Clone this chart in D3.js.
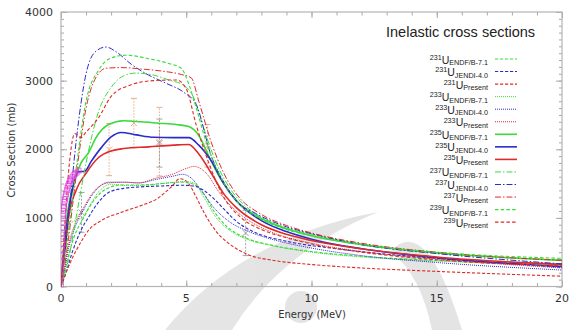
<!DOCTYPE html>
<html><head><meta charset="utf-8">
<script src="https://cdn.jsdelivr.net/npm/d3@7/dist/d3.min.js"></script>
<style>
body{margin:0;background:#fff}
svg{display:block}
</style></head><body>
<svg id="chart" width="580" height="330"></svg>
<script>
// evaluated inelastic cross sections, [E (MeV), sigma (mb)]
var u231Endf = [[0,0],[0.2,300],[0.5,700],[0.9,1000],[1.3,1250],[1.8,1420],[2.4,1480],[3.2,1480],[4.0,1500],[4.8,1520],[5.3,1490],[5.7,1350],[6.1,1100],[6.6,880],[7.3,720],[8.3,610],[10,510],[12,440],[15,380],[20,330]]
var u231Jendi = [[0,0],[0.2,200],[0.45,500],[0.8,820],[1.1,1010],[1.5,1230],[1.9,1370],[2.5,1430],[3.1,1450],[4.0,1465],[4.8,1475],[5.3,1465],[5.7,1400],[6.1,1280],[6.5,1130],[7.0,950],[7.8,780],[9,660],[11,550],[13,470],[15,410],[20,280]]
var u231Present = [[0,0],[0.2,200],[0.5,450],[0.8,650],[1.1,820],[1.6,960],[2.4,1080],[3.2,1180],[3.8,1270],[4.4,1450],[4.75,1570],[5.05,1520],[5.4,1300],[5.75,1050],[6.2,800],[6.8,600],[7.5,460],[8.5,380],[10,320],[12,270],[15,220],[20,150]]
var u233Endf = [[0,0],[0.15,500],[0.35,900],[0.6,970],[0.85,1000],[1.1,1150],[1.5,1380],[2.0,1490],[2.7,1470],[3.5,1480],[4.3,1510],[4.9,1530],[5.3,1510],[5.7,1300],[6.2,1000],[6.8,800],[7.5,680],[8.5,590],[10,500],[12,430],[15,370],[20,310]]
var u233Jendi = [[0,0],[0.15,250],[0.3,550],[0.6,900],[0.9,1120],[1.3,1360],[1.9,1520],[2.5,1520],[3.1,1510],[3.8,1560],[4.5,1610],[4.85,1635],[5.2,1580],[5.6,1400],[6.1,1150],[6.7,950],[7.5,800],[8.5,680],[10,560],[12,450],[15,350],[20,240]]
var u233Present = [[0,0],[0.15,300],[0.3,600],[0.6,950],[0.9,1150],[1.3,1380],[1.9,1510],[2.5,1520],[3.1,1510],[3.8,1580],[4.4,1630],[5.0,1720],[5.3,1750],[5.8,1650],[6.3,1380],[6.9,1130],[7.5,960],[8.5,780],[10,630],[12,510],[15,400],[20,270]]
var u235Endf = [[0,0],[0.2,900],[0.5,1500],[0.8,1800],[1.1,1950],[1.4,2170],[1.9,2360],[2.5,2415],[3.2,2400],[3.9,2380],[4.6,2360],[5.1,2330],[5.5,2200],[5.9,1900],[6.4,1550],[7,1250],[8,990],[9,840],[10,740],[12,610],[15,490],[20,380]]
var u235Jendi = [[0,0],[0.2,800],[0.45,1400],[0.7,1670],[0.95,1680],[1.2,1820],[1.6,2020],[2.0,2180],[2.4,2245],[3.0,2210],[3.7,2175],[4.5,2170],[5.1,2170],[5.5,2060],[6.0,1830],[6.5,1500],[7,1250],[8,960],[9,800],[10,690],[12,550],[15,420],[20,290]]
var u235Present = [[0,0],[0.15,500],[0.3,1000],[0.6,1400],[1.0,1650],[1.5,1880],[2.0,1975],[2.5,2010],[3.5,2035],[4.5,2060],[5.1,2070],[5.5,1930],[6.0,1650],[6.5,1350],[7,1150],[8,900],[9,760],[10,670],[12,550],[15,430],[20,320]]
var u237Endf = [[0,0],[0.3,400],[0.6,1000],[1.0,1800],[1.5,2550],[2.0,2900],[2.5,3070],[3.0,3110],[3.7,3080],[4.3,3010],[4.9,2930],[5.3,2750],[5.7,2300],[6.2,1800],[6.8,1400],[7.5,1130],[8.5,920],[10,760],[12,620],[15,490],[20,390]]
var u237Jendi = [[0,0],[0.3,1000],[0.6,2100],[1.0,3100],[1.4,3430],[1.8,3490],[2.2,3420],[2.8,3240],[3.5,3080],[4.2,2960],[4.9,2830],[5.4,2650],[6.0,1900],[6.5,1520],[7,1250],[7.8,1060],[9,870],[10,770],[12,610],[15,480],[20,330]]
var u237Present = [[0,0],[0.3,700],[0.6,1600],[1.0,2600],[1.4,3050],[1.8,3180],[2.4,3190],[3.2,3170],[4.0,3140],[4.8,3090],[5.2,3040],[5.5,2700],[6.0,2100],[6.5,1650],[7,1350],[8,1050],[9,890],[10,780],[12,630],[15,500],[20,380]]
var u239Endf = [[0,0],[0.3,800],[0.6,1700],[1.0,2700],[1.5,3150],[2.0,3330],[2.6,3370],[3.5,3320],[4.3,3250],[4.8,3180],[5.1,2950],[5.4,2600],[5.8,2100],[6.3,1650],[7,1250],[8,980],[9,830],[10,740],[12,610],[15,500],[20,410]]
var u239Present = [[0,0],[0.15,900],[0.35,1850],[0.55,2230],[0.8,2170],[1.0,2250],[1.5,2460],[2.0,2770],[2.8,2940],[3.7,3000],[4.6,3010],[5.0,2880],[5.4,2350],[5.9,1800],[6.5,1300],[7.2,1000],[8,830],[9,710],[10,620],[12,500],[15,390],[20,300]]

// legend rows, same order as the curves
var legendIso = ["231","231","231","233","233","233","235","235","235","237","237","237","239","239"]
var legendLib = ["ENDF/B-7.1","JENDI-4.0","Present","ENDF/B-7.1","JENDI-4.0","Present","ENDF/B-7.1","JENDI-4.0","Present","ENDF/B-7.1","JENDI-4.0","Present","ENDF/B-7.1","Present"]
var curves = [u231Endf,u231Jendi,u231Present,u233Endf,u233Jendi,u233Present,u235Endf,u235Jendi,u235Present,u237Endf,u237Jendi,u237Present,u239Endf,u239Present]

// measured points
var magE = [0.005,0.01,0.015,0.02,0.025,0.03,0.035,0.04,0.05,0.06,0.07,0.08,0.09,0.10,0.11,0.12,0.14,0.16,0.18,0.20,0.23,0.26,0.29,0.32,0.36,0.40,0.45,0.50,0.56,0.62,0.70]
var magS = [30,150,260,360,450,540,620,690,780,860,930,990,1050,1100,1140,1180,1230,1270,1310,1350,1400,1440,1470,1500,1540,1560,1590,1620,1640,1660,1690]
var orangeE = [1.92,2.91,3.93,5.85]
var orangeS = [1995,2381,2110,2050]
var orangeErr = [380,360,500,310]
var grayE = [0.82,3.93,7.37]
var grayS = [1080,2090,780]
var grayErr = [290,350,330]

var colors = {"ENDF/B-7.1": "#3ada3a", "JENDI-4.0": "#2b2bcc", "Present": "#dd2b2b"}
var dashes = {"231": "3.2,1.8", "233": "1,1", "235": null, "237": "6,2,1.5,2", "239": "3.5,2.2"}
var widths = {"231": 1.1, "233": 1, "235": 1.6, "237": 1, "239": 1.1}

var svg = d3.select("#chart")
var x = d3.scaleLinear().domain([0, 20]).range([61, 562])
var y = d3.scaleLinear().domain([0, 4000]).range([286.5, 12])

// watermark swoosh
var wm = svg.append("g").style("fill", "#cfcfcf").style("opacity", 0.55)
wm.append("path").attr("d", "M165,330 Q240,238 378,212 Q280,252 232,330 Z")
wm.append("path").attr("d", "M390,252 Q426,212 462,330 L432,330 Q420,272 390,252 Z")
wm.append("circle").attr("cx", 301).attr("cy", 307).attr("r", 16)

// ticks, all inward like the original
function tickAxis(axis, tx, ty, size, vals) {
    var g = svg.append("g").attr("transform", "translate(" + tx + "," + ty + ")")
        .call(axis.tickValues(vals).tickSize(size).tickFormat(""))
    g.select(".domain").remove()
    g.selectAll("line").attr("stroke", "#a8a8a8")
}
tickAxis(d3.axisBottom(x), 0, 286.5, -6, [0,5,10,15,20])
tickAxis(d3.axisBottom(x), 0, 286.5, -3.5, d3.range(0, 21, 1))
tickAxis(d3.axisTop(x), 0, 12, -6, [0,5,10,15,20])
tickAxis(d3.axisTop(x), 0, 12, -3.5, d3.range(0, 21, 1))
tickAxis(d3.axisLeft(y), 61, 0, -6, [0,1000,2000,3000,4000])
tickAxis(d3.axisLeft(y), 61, 0, -3, d3.range(0, 4001, 100))
tickAxis(d3.axisRight(y), 562, 0, -6, [0,1000,2000,3000,4000])
tickAxis(d3.axisRight(y), 562, 0, -3, d3.range(0, 4001, 100))

svg.append("rect").attr("x", 61).attr("y", 12).attr("width", 501).attr("height", 274.5)
    .style("fill", "none").style("stroke", "#b4b4b4").style("stroke-width", 1.2)

var labFont = "'DejaVu Sans', sans-serif"
svg.append("g").selectAll("text").data([0,5,10,15,20]).enter().append("text")
    .attr("x", d => x(d)).attr("y", 302).attr("text-anchor", "middle")
    .style("font", "11px " + labFont).style("fill", "#333").text(d => d)
svg.append("g").selectAll("text").data([0,1000,2000,3000,4000]).enter().append("text")
    .attr("x", 53).attr("y", d => y(d) + 4).attr("text-anchor", "end")
    .style("font", "11px " + labFont).style("fill", "#333").text(d => d)
svg.append("text").attr("x", 312).attr("y", 318).attr("text-anchor", "middle")
    .style("font", "10px " + labFont).style("fill", "#333").text("Energy (MeV)")
svg.append("text").attr("transform", "translate(15,150) rotate(-90)").attr("text-anchor", "middle")
    .style("font", "10px " + labFont).style("fill", "#333").text("Cross Section (mb)")

svg.append("defs").append("clipPath").attr("id", "plot")
    .append("rect").attr("x", 61).attr("y", 12).attr("width", 501).attr("height", 274.5)
var plot = svg.append("g").attr("clip-path", "url(#plot)")

// error bars
function errBars(es, ss, errs, color, dash) {
    var g = plot.append("g").style("stroke", color).style("stroke-width", 0.9)
    es.forEach(function(e, i) {
        g.append("line").attr("x1", x(e)).attr("x2", x(e))
            .attr("y1", y(ss[i] - errs[i])).attr("y2", y(ss[i] + errs[i])).style("stroke-dasharray", dash)
        ;[ss[i] - errs[i], ss[i] + errs[i]].forEach(function(v) {
            g.append("line").attr("x1", x(e) - 3).attr("x2", x(e) + 3).attr("y1", y(v)).attr("y2", y(v))
        })
        g.append("path").attr("d", "M" + (x(e) - 3) + "," + (y(ss[i]) - 3) + "l6,6m0,-6l-6,6")
    })
}
errBars(orangeE, orangeS, orangeErr, "#e8a282", "1.5,1.5")
errBars(grayE, grayS, grayErr, "#999", "2,1.5")

var line = d3.line().x(d => x(d[0])).y(d => y(d[1])).curve(d3.curveMonotoneX)
plot.selectAll("path.curve").data(curves).enter().append("path")
    .attr("class", "curve")
    .attr("d", line)
    .style("fill", "none")
    .style("stroke", (d, i) => colors[legendLib[i]])
    .style("stroke-width", (d, i) => widths[legendIso[i]])
    .style("stroke-dasharray", (d, i) => dashes[legendIso[i]])

plot.append("g").selectAll("rect").data(magE).enter().append("rect")
    .attr("x", (d, i) => x(d) - 2.5).attr("y", (d, i) => y(magS[i]) - 2.5)
    .attr("width", 5).attr("height", 5)
    .style("fill", "none").style("stroke", "#e040e0").style("stroke-width", 0.7)

// title and legend
svg.append("text").attr("x", 386).attr("y", 37)
    .style("font", "14.5px 'Liberation Sans', Arial, sans-serif").style("fill", "#222")
    .text("Inelastic cross sections")

// legend labels are built right to left: subscript, "U", then the mass number
var leg = svg.append("g").style("font-family", "'Liberation Sans', Arial, sans-serif").style("fill", "#222")
legendIso.forEach(function(iso, i) {
    var ry = 59 + 12.55 * i
    var right = 488
    var sub = leg.append("text").attr("x", right).attr("y", ry + 6).attr("text-anchor", "end")
        .style("font-size", "7.2px").text(legendLib[i])
    right -= sub.node().getComputedTextLength()
    var u = leg.append("text").attr("x", right).attr("y", ry + 4.5).attr("text-anchor", "end")
        .style("font-size", "10.5px").text("U")
    right -= u.node().getComputedTextLength()
    leg.append("text").attr("x", right).attr("y", ry + 0.8).attr("text-anchor", "end")
        .style("font-size", "7.2px").text(iso)
    leg.append("line").attr("x1", 495).attr("x2", 517).attr("y1", ry).attr("y2", ry)
        .style("stroke", colors[legendLib[i]])
        .style("stroke-width", widths[iso])
        .style("stroke-dasharray", dashes[iso])
})
</script></body></html>
